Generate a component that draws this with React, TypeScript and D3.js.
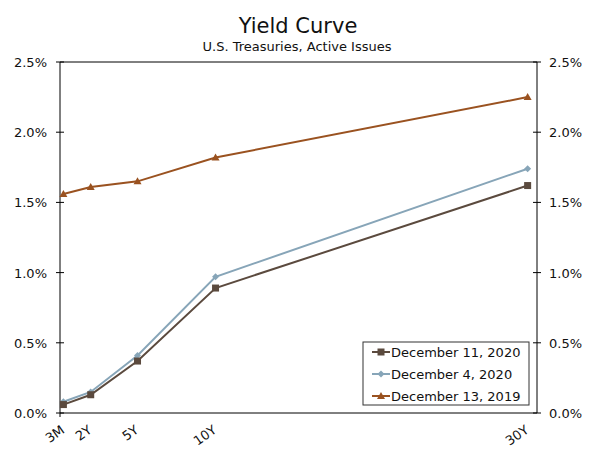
import React from "react";
import * as d3 from "d3";

const maturities = ["3M", "2Y", "5Y", "10Y", "30Y"];
const maturityYears = [0.25, 2, 5, 10, 30];
const seriesNames = ["December 11, 2020", "December 4, 2020", "December 13, 2019"];
const dec11_2020 = [0.06, 0.13, 0.37, 0.89, 1.62];
const dec4_2020 = [0.08, 0.15, 0.41, 0.97, 1.74];
const dec13_2019 = [1.56, 1.61, 1.65, 1.82, 2.25];
const yTicks = [0, 0.5, 1.0, 1.5, 2.0, 2.5];

const colors = ["#5B4A3E", "#87A5B8", "#9A5220"];
const shapes = ["square", "diamond", "triangle"];

const W = 600, H = 455;
const L = 60, R = 537, T = 62, B = 413;
const font = "'DejaVu Sans', Verdana, sans-serif";

function Marker({ shape, x, y, color }: { shape: string; x: number; y: number; color: string }) {
  if (shape === "square") return <rect x={x - 3.5} y={y - 3.5} width={7} height={7} fill={color} />;
  if (shape === "diamond")
    return <path d={`M${x},${y - 3.5}L${x + 3.5},${y}L${x},${y + 3.5}L${x - 3.5},${y}Z`} fill={color} />;
  return <path d={`M${x},${y - 4}L${x + 4},${y + 3}L${x - 4},${y + 3}Z`} fill={color} />;
}

export default function App() {
  const x = d3.scaleLinear().domain([0, 30.6]).range([59.5, R]);
  const y = d3.scaleLinear().domain([0, 2.5]).range([B, T]);
  const data = [dec11_2020, dec4_2020, dec13_2019];
  const line = d3
    .line<number>()
    .x((_, i) => x(maturityYears[i]))
    .y((d) => y(d));
  const drawOrder = [2, 1, 0];
  const legX = 363, legY = 342;
  return (
    <svg width={W} height={H} style={{ display: "block", position: "absolute", left: 0, top: 0 }}>
      <rect width={W} height={H} fill="#fff" />
      <text x={298} y={33} textAnchor="middle" fontFamily={font} fontSize={21} fill="#111">Yield Curve</text>
      <text x={297} y={51} textAnchor="middle" fontFamily={font} fontSize={13} fill="#111">U.S. Treasuries, Active Issues</text>
      <line x1={L} x2={L} y1={T} y2={B} stroke="#000" />
      <line x1={R} x2={R} y1={T} y2={B} stroke="#000" />
      <line x1={L} x2={R} y1={T} y2={T} stroke="#000" />
      <line x1={L} x2={R} y1={B} y2={B} stroke="#000" />
      {yTicks.map((t) => (
        <g key={t}>
          <line x1={L - 4} x2={L + 4} y1={y(t)} y2={y(t)} stroke="#000" />
          <line x1={R - 4} x2={R + 4} y1={y(t)} y2={y(t)} stroke="#000" />
          <text x={47} y={y(t) + 5} textAnchor="end" fontFamily={font} fontSize={13} fill="#111">{t.toFixed(1)}%</text>
          <text x={549} y={y(t) + 5} textAnchor="start" fontFamily={font} fontSize={13} fill="#111">{t.toFixed(1)}%</text>
        </g>
      ))}
      <line x1={L} x2={L} y1={B} y2={B + 4} stroke="#000" />
      {maturities.map((m, i) => (
        <text
          key={m}
          transform={`translate(${x(maturityYears[i]) + 2},${B + 19}) rotate(-35)`}
          textAnchor="end"
          fontFamily={font}
          fontSize={13}
          fill="#111"
        >
          {m}
        </text>
      ))}
      {drawOrder.map((s) => (
        <g key={s}>
          <path d={line(data[s]) || ""} fill="none" stroke={colors[s]} strokeWidth={2} />
          {data[s].map((v, i) => (
            <Marker key={i} shape={shapes[s]} x={x(maturityYears[i])} y={y(v)} color={colors[s]} />
          ))}
        </g>
      ))}
      <rect x={legX} y={legY} width={166} height={63} fill="#fff" stroke="#333" />
      {seriesNames.map((n, i) => {
        const cy = legY + 10 + i * 22;
        return (
          <g key={n}>
            <line x1={legX + 9} x2={legX + 27} y1={cy} y2={cy} stroke={colors[i]} strokeWidth={2} />
            <Marker shape={shapes[i]} x={legX + 18} y={cy} color={colors[i]} />
            <text x={legX + 28} y={cy + 5} fontFamily={font} fontSize={13} fill="#111">{n}</text>
          </g>
        );
      })}
    </svg>
  );
}
